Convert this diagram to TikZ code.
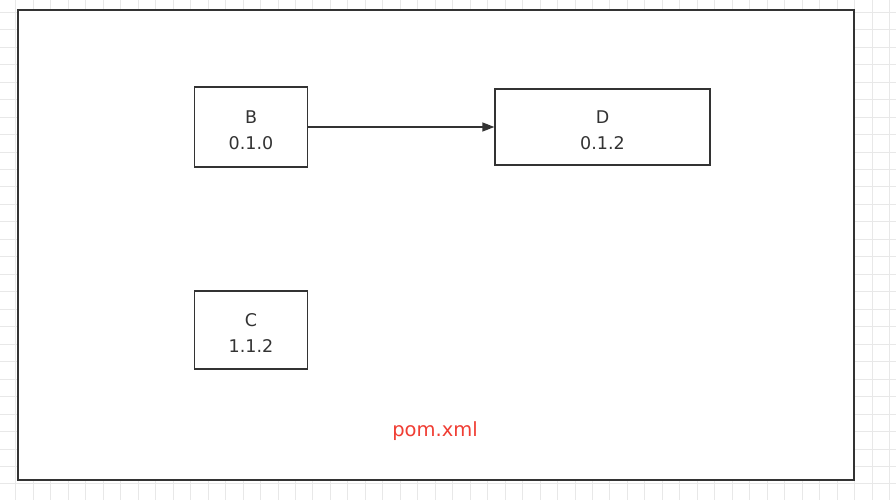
\documentclass[tikz,border=0pt]{standalone}
\usepackage{fontspec}
\setmainfont{DejaVu Sans}
\usepackage{xcolor}
\usetikzlibrary{arrows.meta,positioning}

\definecolor{inkgray}{HTML}{333333}
\definecolor{gridgray}{HTML}{E8E8E8}
\definecolor{pomred}{RGB}{240,62,52}

\newcommand{\upstrut}{\rule{0pt}{19pt}}

\tikzset{
    gridline/.style={gridgray, line width=1pt},
    frame/.style={draw=inkgray, line width=2pt, fill=white},
    artifact/.style={draw=inkgray, line width=1.3pt, align=center,
        text=inkgray, inner sep=0pt,
        font=\fontsize{17.5}{26}\selectfont},
    dep/.style={-{Triangle[length=12pt,width=9pt]}, draw=inkgray, line width=1.3pt}
}

\begin{document}
\begin{tikzpicture}[x=1pt, y=-1pt]

    \useasboundingbox (0,0) rectangle (896,500);

    % Grid
    \begin{scope}
        \clip (0,0) rectangle (896,500);
        \foreach \i in {0,...,52} {
            \draw[gridline] ({-1.5+17.47*\i},0) -- ++(0,500);
        }
        \foreach \j in {0,...,29} {
            \draw[gridline] (0,{-5.2+17.47*\j}) -- ++(896,0);
        }
    \end{scope}

    % Frame
    \draw[frame] (18,10) rectangle (854,480);

    % Artifacts
    \node[artifact, minimum width=113pt, minimum height=80pt] (b) at (251,127) {\upstrut B\\0.1.0};
    \node[artifact, minimum width=215pt, minimum height=76pt] (d) at (602.5,127) {\upstrut D\\0.1.2};
    \node[artifact, minimum width=113pt, minimum height=78pt] (c) at (251,330) {\upstrut C\\1.1.2};

    \draw[dep] (b) -- (d);

    \node[text=pomred, font=\fontsize{19.5}{22}\selectfont] (pom) at (435,431) {pom.xml};
\end{tikzpicture}
\end{document}
